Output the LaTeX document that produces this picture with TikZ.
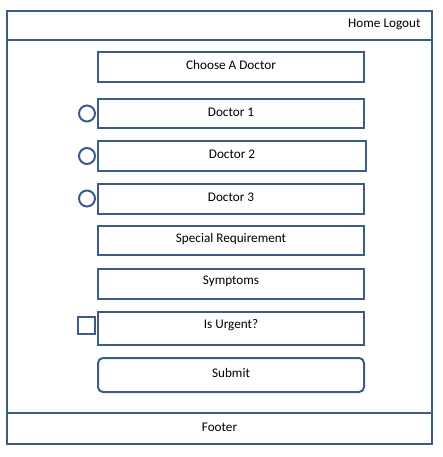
\documentclass[tikz,border=0pt]{standalone}
\usepackage{fontspec}
\setmainfont{Carlito}
\definecolor{wire}{RGB}{62,92,138}
\begin{document}
\begin{tikzpicture}[x=1pt,y=-1pt,
  every node/.style={font=\fontsize{13.2}{15}\selectfont, text=black},
  frame/.style={draw=wire, line width=2pt},
  field/.style={draw=wire, line width=2pt, minimum height=30pt, inner sep=0pt},
  radio/.style={draw=wire, line width=2pt, circle, minimum size=16pt, inner sep=0pt},
  check/.style={draw=wire, line width=2pt, minimum size=17pt, inner sep=0pt},
  button/.style={field, rounded corners=5pt}]
\useasboundingbox (0,0) rectangle (442,457);
% outer frame
\draw[frame] (7,11) rectangle (432,444);
\draw[frame] (7,40) -- (432,40);
\draw[frame] (7,413) -- (432,413);
\node[anchor=east] (nav) at (424,24) {Home Logout};
\node (footer) at (219.5,427) {Footer};
% fields
\node[field, minimum width=266pt] (choose) at (231,67) {};
\node at ([yshift=2pt]choose.center) {Choose A Doctor};
\node[field, minimum width=266pt, minimum height=29pt] (d1) at (231,113.5) {};
\node at ([yshift=1.5pt]d1.center) {Doctor 1};
\node[field, minimum width=268pt] (d2) at (232,156) {};
\node at ([yshift=1.5pt]d2.center) {Doctor 2};
\node[field, minimum width=266pt] (d3) at (231,199) {};
\node at ([yshift=1.5pt]d3.center) {Doctor 3};
\node[field, minimum width=266pt, minimum height=29pt] (sr) at (231,240.5) {};
\node at ([yshift=1.5pt]sr.center) {Special Requirement};
\node[field, minimum width=266pt] (sy) at (231,283.5) {};
\node at ([yshift=2pt]sy.center) {Symptoms};
\node[field, minimum width=266pt, minimum height=33pt] (urg) at (231,328.5) {};
\node at ([yshift=3pt]urg.center) {Is Urgent?};
\node[button, minimum width=266pt, minimum height=34pt] (submit) at (231,375) {};
\node at ([yshift=2pt]submit.center) {Submit};
% radios and checkbox
\node[radio] (r1) at (87,113.5) {};
\node[radio] (r2) at (87,156) {};
\node[radio] (r3) at (87,198.5) {};
\node[check] (cb) at (86.5,325) {};
\end{tikzpicture}
\end{document}
